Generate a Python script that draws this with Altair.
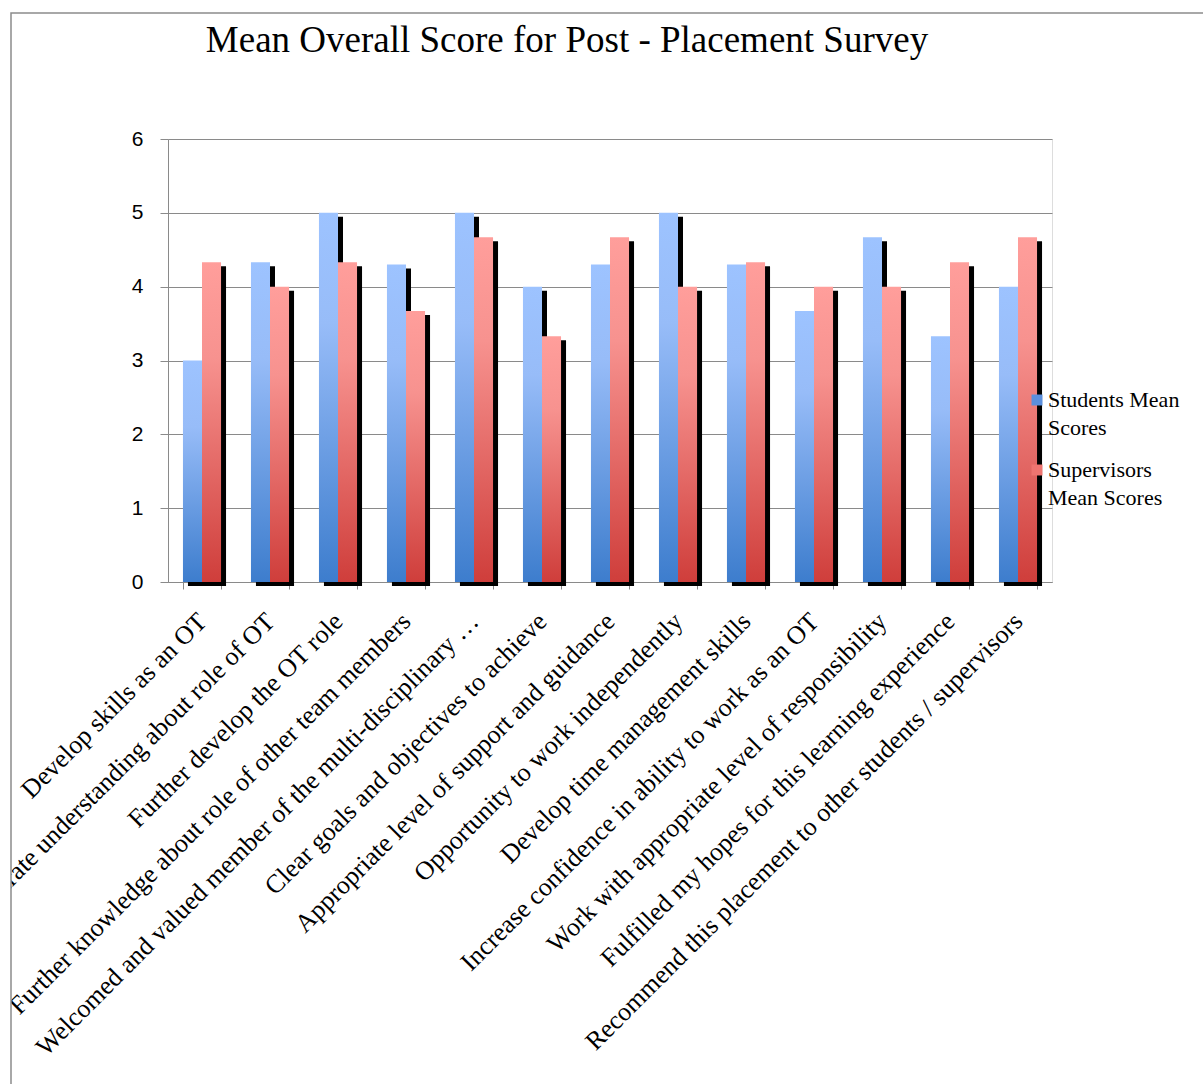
import altair as alt
import pandas as pd

title_text = "Mean Overall Score for Post - Placement Survey"
categories = [
    "Develop skills as an OT",
    "Demonstrate understanding about role of OT",
    "Further develop the OT role",
    "Further knowledge about role of other team members",
    "Welcomed and valued member of the multi-disciplinary \u2026",
    "Clear goals and objectives to achieve",
    "Appropriate level of support and guidance",
    "Opportunity to work independently",
    "Develop time management skills",
    "Increase confidence in ability to work as an OT",
    "Work with appropriate level  of responsibility",
    "Fulfilled my hopes for this learning experience",
    "Recommend this placement to other students / supervisors",
]
series = ["Students Mean Scores", "Supervisors Mean Scores"]
students = [3.0, 4.33, 5.0, 4.3, 5.0, 4.0, 4.3, 5.0, 4.3, 3.67, 4.67, 3.33, 4.0]
supervisors = [4.33, 4.0, 4.33, 3.67, 4.67, 3.33, 4.67, 4.0, 4.33, 4.0, 4.0, 4.33, 4.67]
y_ticks = [0, 1, 2, 3, 4, 5, 6]

rows = []
for c, s, v in zip(categories, students, supervisors):
    rows.append({"item": c, "series": series[0], "value": s})
    rows.append({"item": c, "series": series[1], "value": v})
df = pd.DataFrame(rows)

W, H = 884, 443
PAD_L, PAD_T, PAD_R, PAD_B = 168, 139, 151, 502
GRID = "#8a8a8a"
P_INNER = 0.44
BANDWIDTH = W / len(categories) * (1 - P_INNER)
SH_DX, SH_DY = 5, 4

x_enc = alt.X(
    "item:N",
    sort=categories,
    scale=alt.Scale(paddingInner=P_INNER, paddingOuter=P_INNER / 2),
    axis=alt.Axis(
        title=None,
        labelAngle=315,
        labelAlign="right",
        labelBaseline="middle",
        labelFont="Liberation Serif",
        labelFontSize=26,
        labelColor="#000000",
        labelLimit=0,
        labelPadding=28,
        labelOverlap=False,
        tickBand="extent",
        tickSize=7,
        tickColor=GRID,
        domainColor=GRID,
        grid=False,
    ),
)
xo_enc = alt.XOffset(
    "series:N", sort=series,
    scale=alt.Scale(domain=series, paddingInner=0, paddingOuter=0),
)
xo_shadow = alt.XOffset(
    "series:N", sort=series,
    scale=alt.Scale(domain=series, paddingInner=0, paddingOuter=0,
                    range=[SH_DX, SH_DX + BANDWIDTH]),
)
y_enc = alt.Y(
    "value:Q",
    scale=alt.Scale(domain=[0, 6], nice=False, zero=True),
    axis=alt.Axis(
        title=None,
        values=y_ticks,
        labelFont="Liberation Sans",
        labelFontSize=21,
        labelColor="#000000",
        labelPadding=17,
        tickSize=8,
        tickColor=GRID,
        domainColor=GRID,
        gridColor=GRID,
        gridWidth=1,
    ),
)

base = alt.Chart(df)

shadow = base.mark_bar(color="#000000", yOffset=SH_DY, clip=False).encode(
    x=x_enc, xOffset=xo_shadow, y=y_enc
)

blue_grad = alt.Gradient(
    gradient="linear", x1=0, x2=0, y1=0, y2=1,
    stops=[
        alt.GradientStop(color="#9dc3ff", offset=0),
        alt.GradientStop(color="#97bcf8", offset=0.3),
        alt.GradientStop(color="#3d7dcd", offset=1),
    ],
)
red_grad = alt.Gradient(
    gradient="linear", x1=0, x2=0, y1=0, y2=1,
    stops=[
        alt.GradientStop(color="#ff9e9b", offset=0),
        alt.GradientStop(color="#f7928f", offset=0.3),
        alt.GradientStop(color="#cf3e3b", offset=1),
    ],
)

blue = base.transform_filter(alt.datum.series == series[0]).mark_bar(
    fill=blue_grad
).encode(x=x_enc, xOffset=xo_enc, y=y_enc)

red = base.transform_filter(alt.datum.series == series[1]).mark_bar(
    fill=red_grad
).encode(x=x_enc, xOffset=xo_enc, y=y_enc)

legend_layer = base.mark_bar(opacity=0).encode(
    x=x_enc, xOffset=xo_enc, y=y_enc,
    color=alt.Color(
        "series:N",
        sort=series,
        scale=alt.Scale(domain=series, range=["#5b8fdd", "#ef7470"]),
        legend=alt.Legend(
            title=None,
            orient="none",
            legendX=858,
            legendY=250,
            symbolType="square",
            symbolSize=120,
            symbolOpacity=1,
            symbolStrokeWidth=0,
            labelFont="Liberation Serif",
            labelFontSize=22,
            labelColor="#000000",
            labelLimit=0,
            labelOffset=0,
            labelBaseline="middle",
            rowPadding=20,
            labelExpr="datum.label == 'Students Mean Scores' ? ['Students Mean', 'Scores'] : ['Supervisors', 'Mean Scores']",
        ),
    ),
)

one = alt.Data(values=[{"t": title_text}])

# white margin outside the chart frame (clips labels like the original)
margin = alt.Chart(one).mark_rect(color="#ffffff", clip=False).encode(
    x=alt.value(-PAD_L), x2=alt.value(11 - PAD_L),
    y=alt.value(-PAD_T), y2=alt.value(H + PAD_B),
)
frame = alt.Chart(one).mark_rect(
    filled=False, stroke="#8c8c8c", strokeWidth=1.5, clip=False
).encode(
    x=alt.value(11 - PAD_L), x2=alt.value(W + PAD_R + 20),
    y=alt.value(13 - PAD_T), y2=alt.value(H + PAD_B + 20),
)
title = alt.Chart(one).mark_text(
    font="Liberation Serif", fontSize=37, color="#000000",
    align="center", baseline="alphabetic", clip=False,
).encode(
    text="t:N", x=alt.value(567 - PAD_L), y=alt.value(52 - PAD_T)
)

chart = alt.layer(shadow, legend_layer, blue, red, margin, frame, title).resolve_scale(
    xOffset="independent"
).properties(
    width=W,
    height=H,
    autosize=alt.AutoSizeParams(type="none"),
    padding={"left": PAD_L, "top": PAD_T, "right": PAD_R, "bottom": PAD_B},
).configure_view(stroke=None).configure(
    background="#ffffff",
    style={"guide-label": {"lineHeight": 28}},
)

chart.save("out.html", embed_options={"renderer": "svg", "actions": False})
